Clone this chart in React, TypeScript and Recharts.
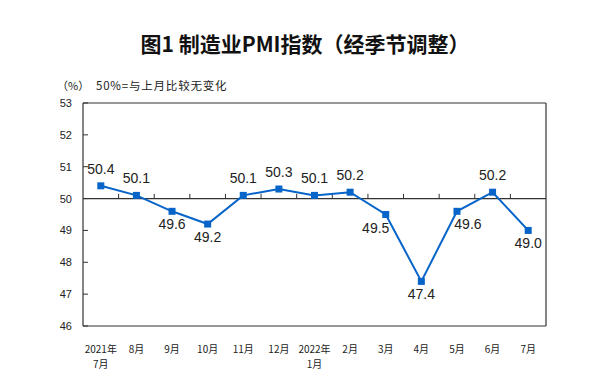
import React from 'react'
import { LineChart, Line, XAxis, YAxis, ReferenceLine, LabelList } from 'recharts'

const months = ['2021年\n7月', '8月', '9月', '10月', '11月', '12月', '2022年\n1月', '2月', '3月', '4月', '5月', '6月', '7月']
const pmi = [50.4, 50.1, 49.6, 49.2, 50.1, 50.3, 50.1, 50.2, 49.5, 47.4, 49.6, 50.2, 49.0]
const labelSide = ['up', 'up', 'down', 'down', 'up', 'up', 'up', 'up', 'down', 'down', 'down', 'up', 'down']
const labelShift = [0, 0, 0, 0, 0, 0, 0, 0, -10, 0, 11, 0, 0]
const yTicks = [46, 47, 48, 49, 50, 51, 52, 53]

const data = pmi.map((v, i) => ({ idx: i, value: v }))
const boundaries = months.slice(1).map((_, i) => i + 0.5)

const BLUE = '#0764c8'
const INK = '#222'

const MonthTick = ({ x, y, payload }: any) => {
  const lines = months[payload.value].split('\n')
  return (
    <g>
      {lines.map((t, i) => (
        <text key={i} x={x} y={y + 19 + i * 14.5} textAnchor="middle" fontSize={10} fill={INK} fontFamily="'Noto Sans CJK SC', sans-serif">
          {t}
        </text>
      ))}
    </g>
  )
}

const ValueTick = ({ x, y, payload }: any) => (
  <g>
    <line x1={x} x2={x + 5} y1={y} y2={y} stroke="#333" />
    <text x={x - 11} y={y + 4} textAnchor="end" fontSize={11} fill={INK} fontFamily="'Liberation Sans', Arial, sans-serif">
      {payload.value}
    </text>
  </g>
)

const Square = ({ cx, cy }: any) => (
  <rect x={cx - 3.5} y={cy - 3.5} width={7} height={7} fill={BLUE} />
)

const PointLabel = ({ x, y, value, index }: any) => {
  const up = labelSide[index] === 'up'
  return (
    <text
      x={x + labelShift[index]}
      y={up ? y - 12 : y + 18}
      textAnchor="middle"
      fontSize={14}
      fill={INK}
      fontFamily="'Liberation Sans', Arial, sans-serif"
    >
      {Number(value).toFixed(1)}
    </text>
  )
}

export default function App() {
  return (
    <div style={{ position: 'absolute', left: 0, top: 0, width: 600, height: 382, background: '#fff' }}>
      <div style={{ position: 'absolute', left: 0, top: 28, width: 610, textAlign: 'center', fontSize: 21, fontWeight: 'bold', color: '#111', fontFamily: "'Noto Sans CJK SC', sans-serif" }}>
        图1 制造业PMI指数（经季节调整）
      </div>
      <div style={{ position: 'absolute', left: 57, top: 77, fontSize: 11, color: INK, fontFamily: "'Noto Sans CJK SC', sans-serif" }}>
        （%）
      </div>
      <div style={{ position: 'absolute', left: 96, top: 77, fontSize: 11.5, letterSpacing: 0.8, color: INK, fontFamily: "'Noto Sans CJK SC', sans-serif" }}>
        50%=与上月比较无变化
      </div>
      <LineChart width={600} height={382} data={data} margin={{ top: 103, right: 54, left: 0, bottom: 16 }}>
        <XAxis
          dataKey="idx"
          type="number"
          domain={[-0.5, 12.5]}
          ticks={data.map(d => d.idx)}
          interval={0}
          tick={<MonthTick />}
          tickLine={false}
          axisLine={{ stroke: '#333', strokeWidth: 1.2 }}
          height={40}
        />
        <YAxis
          domain={[46, 53]}
          ticks={yTicks}
          interval={0}
          width={83}
          tickSize={0}
          tickMargin={0}
          tickLine={false}
          tick={<ValueTick />}
          axisLine={{ stroke: '#333', strokeWidth: 1.2 }}
        />
        <ReferenceLine y={53} stroke="#333" strokeWidth={1.2} />
        <ReferenceLine x={12.5} stroke="#333" strokeWidth={1.2} />
        <ReferenceLine y={50} stroke="#333" strokeWidth={1.2} />
        {boundaries.map(b => (
          <ReferenceLine
            key={b}
            segment={[{ x: b, y: 50 }, { x: b, y: 50.15 }]}
            stroke="#333"
          />
        ))}
        <Line
          type="linear"
          dataKey="value"
          stroke={BLUE}
          strokeWidth={2}
          dot={<Square />}
          activeDot={false}
          isAnimationActive={false}
        >
          <LabelList dataKey="value" content={<PointLabel />} />
        </Line>
      </LineChart>
    </div>
  )
}
